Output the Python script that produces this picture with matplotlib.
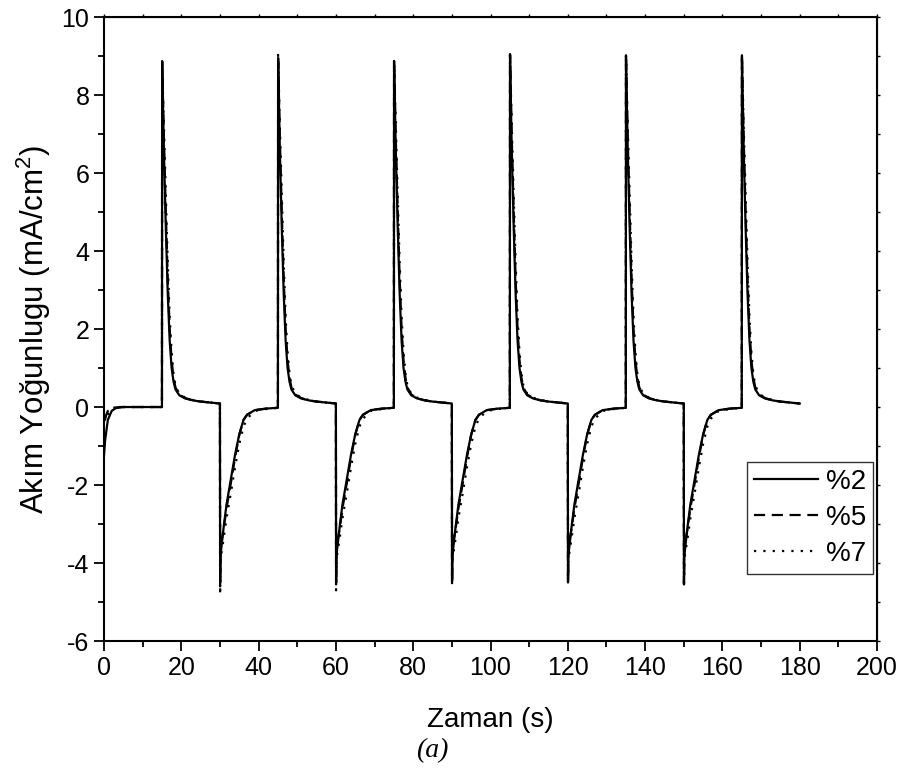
import matplotlib
matplotlib.use("Agg")
import matplotlib.pyplot as plt
from matplotlib.ticker import MultipleLocator
import numpy as np

plt.rcParams['font.family'] = ['Liberation Sans', 'DejaVu Sans']
plt.rcParams['mathtext.default'] = 'regular'
plt.rcParams['axes.unicode_minus'] = False

# --- veriler ---
labels = ["%2", "%5", "%7"]

# ilk 15 s (baslangic bolgesi)
start_t = {
    "%2": [0.0, 0.3, 1.0, 2.0, 3.0, 5.0, 15.0],
    "%5": [0.2, 0.6, 1.0, 2.0, 4.0, 15.0],
    "%7": [1.0, 1.5, 2.5, 4.0, 15.0],
}
start_y = {
    "%2": [-1.25, -0.85, -0.33, -0.1, -0.03, 0.0, 0.0],
    "%5": [-0.35, -0.2, -0.1, -0.03, 0.0, 0.0],
    "%7": [-0.2, -0.08, -0.02, 0.0, 0.0],
}

# anodik adimlar (pozitif pik) ve katodik adimlar (negatif pik)
anodic_steps = [15, 45, 75, 105, 135, 165]
cathodic_steps = [30, 60, 90, 120, 150]

# adimdan sonraki zaman (s)
anodic_tau = [0.05, 0.5, 1.0, 1.5, 2.0, 2.5, 3.0, 3.5, 4.5, 6.0, 8.0, 10.0, 13.0, 15.0]
cathodic_tau = [0.05, 0.15, 1.0, 1.7, 3.0, 3.9, 5.0, 6.1, 7.0, 9.0, 12.0, 15.0]

# pik degerleri (her adim icin)
anodic_peak = {
    "%2": [8.87, 8.95, 8.87, 9.05, 9.02, 9.02],
    "%5": [8.85, 8.98, 8.87, 9.03, 9.00, 9.00],
    "%7": [8.80, 9.03, 8.85, 9.00, 9.00, 9.00],
}
cathodic_peak = {
    "%2": [-4.50, -4.50, -4.48, -4.50, -4.50],
    "%5": [-4.60, -4.55, -4.50, -4.45, -4.55],
    "%7": [-4.82, -4.70, -4.57, -4.50, -4.62],
}

# pikten sonraki sonum egrileri (ilk deger pik ile degisir)
anodic_decay = {
    "%2": [0.0, 6.6, 4.6, 2.9, 1.7, 1.0, 0.65, 0.45, 0.30, 0.22, 0.17, 0.14, 0.11, 0.09],
    "%5": [0.0, 6.9, 5.0, 3.3, 2.0, 1.2, 0.75, 0.50, 0.32, 0.23, 0.17, 0.14, 0.11, 0.09],
    "%7": [0.0, 7.2, 5.4, 3.7, 2.3, 1.4, 0.85, 0.55, 0.34, 0.24, 0.18, 0.14, 0.11, 0.09],
}
cathodic_decay = {
    "%2": [0.0, -3.8, -3.05, -2.5, -1.75, -1.23, -0.70, -0.33, -0.20, -0.08, -0.04, -0.02],
    "%5": [0.0, -3.6, -3.10, -2.6, -1.85, -1.30, -0.72, -0.33, -0.20, -0.08, -0.04, -0.02],
    "%7": [0.0, -3.9, -3.35, -2.85, -2.10, -1.55, -0.95, -0.50, -0.30, -0.10, -0.05, -0.02],
}

styles = {"%2": "-", "%5": (0, (5, 3)), "%7": (0, (1, 3.2))}


def build_series(name):
    t = list(start_t[name])
    y = list(start_y[name])
    steps = sorted([(s, "a", i) for i, s in enumerate(anodic_steps)] +
                   [(s, "c", i) for i, s in enumerate(cathodic_steps)])
    for s, kind, i in steps:
        if kind == "a":
            vals = list(anodic_decay[name])
            vals[0] = anodic_peak[name][i]
            t += [s + d for d in anodic_tau]
        else:
            vals = list(cathodic_decay[name])
            vals[0] = cathodic_peak[name][i]
            t += [s + d for d in cathodic_tau]
        y += vals
    return np.array(t), np.array(y)


fig = plt.figure(figsize=(9.01, 7.70), dpi=100)
ax = fig.add_axes([0.1154, 0.1675, 0.8580, 0.8104])

# %7 en altta, %2 en ustte
for name in ["%7", "%5", "%2"]:
    t, y = build_series(name)
    ax.plot(t, y, color="black", linestyle=styles[name], lw=1.6, label=name)

ax.set_xlim(0, 200)
ax.set_ylim(-6, 10)
ax.xaxis.set_major_locator(MultipleLocator(20))
ax.xaxis.set_minor_locator(MultipleLocator(10))
ax.yaxis.set_major_locator(MultipleLocator(2))
ax.yaxis.set_minor_locator(MultipleLocator(1))
ax.tick_params(which="major", direction="out", length=7, width=1.3, labelsize=18)
ax.tick_params(which="minor", direction="out", length=4, width=1.3)
for sp in ax.spines.values():
    sp.set_linewidth(1.5)

secx = ax.secondary_xaxis("top")
secx.xaxis.set_major_locator(MultipleLocator(20))
secx.xaxis.set_minor_locator(MultipleLocator(10))
secx.tick_params(which="both", direction="out", length=2.5, width=1.0, labeltop=False)
secy = ax.secondary_yaxis("right")
secy.yaxis.set_major_locator(MultipleLocator(2))
secy.yaxis.set_minor_locator(MultipleLocator(1))
secy.tick_params(which="both", direction="out", length=2.5, width=1.0, labelright=False)

ax.set_xlabel("Zaman (s)", fontsize=20, labelpad=20)
ax.set_ylabel(r"Akım Yoğunlugu (mA/cm$^2$)", fontsize=22.5, labelpad=6)

handles, leg_labels = ax.get_legend_handles_labels()
order = [leg_labels.index(l) for l in labels]
leg = ax.legend([handles[i] for i in order], labels, loc="upper right",
                bbox_to_anchor=(0.995, 0.287), fontsize=20, frameon=True,
                fancybox=False, edgecolor="black", handlelength=2.3,
                handletextpad=0.3, labelspacing=0.36, borderpad=0.25,
                borderaxespad=0.0)
leg.get_frame().set_linewidth(1.0)

fig.text(0.48, 0.025, "(a)", family="Liberation Serif", style="italic",
         fontsize=20, ha="center", va="center")

fig.savefig("out.png", dpi=100)
